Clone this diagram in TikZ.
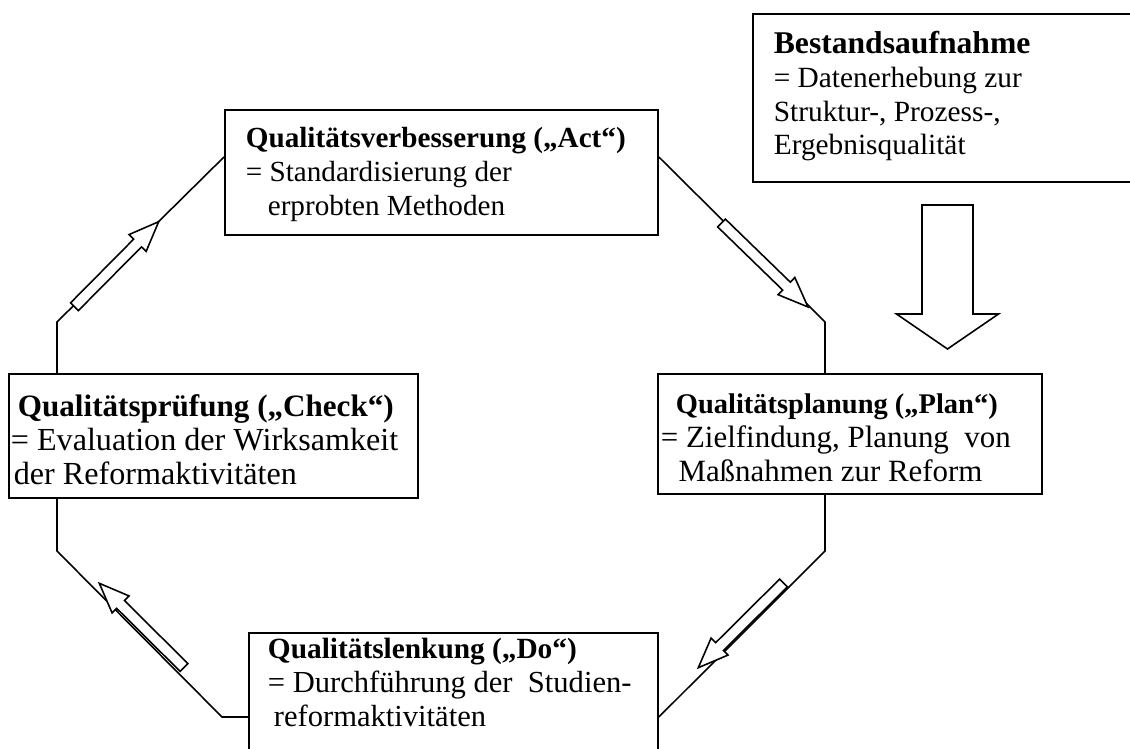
\documentclass[tikz,border=0pt]{standalone}
\usepackage{fontspec}
\setmainfont{Liberation Serif}
\usetikzlibrary{calc}

\newcommand{\boxtitle}[2]{{\fontsize{#1}{19.1}\selectfont\bfseries #2}}
% hollow block arrow: tail, tip, half shaft, half head, head length
\newcommand{\blockarrow}[5]{%
  \coordinate (ba) at ($(#2)!#5!(#1)$);
  \draw[hollow] ($(#1)!#3!90:(#2)$) -- ($(ba)!#3!90:(#2)$) -- ($(ba)!#4!90:(#2)$) -- (#2)
    -- ($(ba)!#4!-90:(#2)$) -- ($(ba)!#3!-90:(#2)$) -- ($(#1)!#3!-90:(#2)$) -- cycle;}

\begin{document}
\begin{tikzpicture}[x=0.02cm, y=-0.02cm,
    qbox/.style={draw, line width=1.1pt, anchor=north west, align=flush left, inner sep=0pt},
    ring/.style={line width=0.9pt},
    hollow/.style={draw, fill=white, line width=0.9pt, line join=miter}]
    \useasboundingbox (0,0) rectangle (1130,749);
    % Kaesten
    \node[qbox, text width=8.4cm, text height=0.8cm, text depth=2.56cm, font=\fontsize{16.7}{19.1}\selectfont] (bestand) at (752,13) {\leftskip=11.9pt \boxtitle{18}{Bestandsaufnahme}\\= Datenerhebung zur\\Struktur-, Prozess-,\\Ergebnisqualität\par};
    \node[qbox, text width=8.66cm, text height=0.76cm, text depth=1.74cm, font=\fontsize{16.6}{19.1}\selectfont] (act) at (224,109) {\leftskip=11.9pt \boxtitle{16.6}{Qualitätsverbesserung („Act“)}\\= Standardisierung der\\\hspace*{12.5pt}erprobten Methoden\par};
    \node[qbox, text width=8.18cm, text height=0.86cm, text depth=1.62cm, font=\fontsize{18.3}{19.1}\selectfont] (check) at (8,373) {\leftskip=1.1pt \hspace*{4pt}\boxtitle{17.7}{Qualitätsprüfung („Check“)}\\= Evaluation der Wirksamkeit\\\hspace*{1.7pt}der Reformaktivitäten\par};
    \node[qbox, text width=7.68cm, text height=0.8cm, text depth=1.6cm, font=\fontsize{17.6}{19.1}\selectfont] (plan) at (657,373) {\leftskip=1.7pt \hspace*{8.5pt}\boxtitle{16.2}{Qualitätsplanung („Plan“)}\\= Zielfindung, Planung\ \ von\\\hspace*{10pt}Maßnahmen zur Reform\par};
    \node[qbox, text width=8.18cm, text height=0.52cm, text depth=2.24cm, font=\fontsize{17.4}{19.1}\selectfont] (do) at (248,632) {\leftskip=10.8pt \boxtitle{16.7}{Qualitätslenkung („Do“)}\\= Durchführung der\ \ Studien-\\\hspace*{3.4pt}reformaktivitäten\par};

    % Kreislauf
    \coordinate (c1) at (57,322); \coordinate (c2) at (224,157);
    \coordinate (c3) at (657,157); \coordinate (c4) at (825,322);
    \coordinate (c5) at (825,551); \coordinate (c6) at (658,717);
    \coordinate (c7) at (222,717); \coordinate (c8) at (57,551);
    \draw[ring] (check.north -| c1) -- (c1) -- (act.west |- c2);
    \draw[ring] (act.east |- c3) -- (c4) -- (plan.north -| c4);
    \draw[ring] (plan.south -| c5) -- (c5) -- (do.east |- c6);
    \draw[ring] (do.west |- c7) -- (c7) -- (c8) -- (check.south -| c8);

    % Pfeile
    \coordinate (a1s) at (74.5,306.7); \coordinate (a1e) at (158.7,221.7);
    \coordinate (a2s) at (721.5,223);  \coordinate (a2e) at (808,307);
    \coordinate (a3s) at (783.5,583);  \coordinate (a3e) at (698.3,667.7);
    \coordinate (a4s) at (184,667.5);  \coordinate (a4e) at (99.3,583.3);
    \coordinate (bs) at (947.5,205);   \coordinate (be) at (947.5,349);
    \blockarrow{a1s}{a1e}{0.11cm}{0.24cm}{0.6cm}
    \blockarrow{a2s}{a2e}{0.11cm}{0.24cm}{0.6cm}
    \blockarrow{a3s}{a3e}{0.11cm}{0.24cm}{0.6cm}
    \blockarrow{a4s}{a4e}{0.11cm}{0.24cm}{0.6cm}
    \blockarrow{bs}{be}{0.51cm}{1.02cm}{0.7cm}
\end{tikzpicture}
\end{document}
